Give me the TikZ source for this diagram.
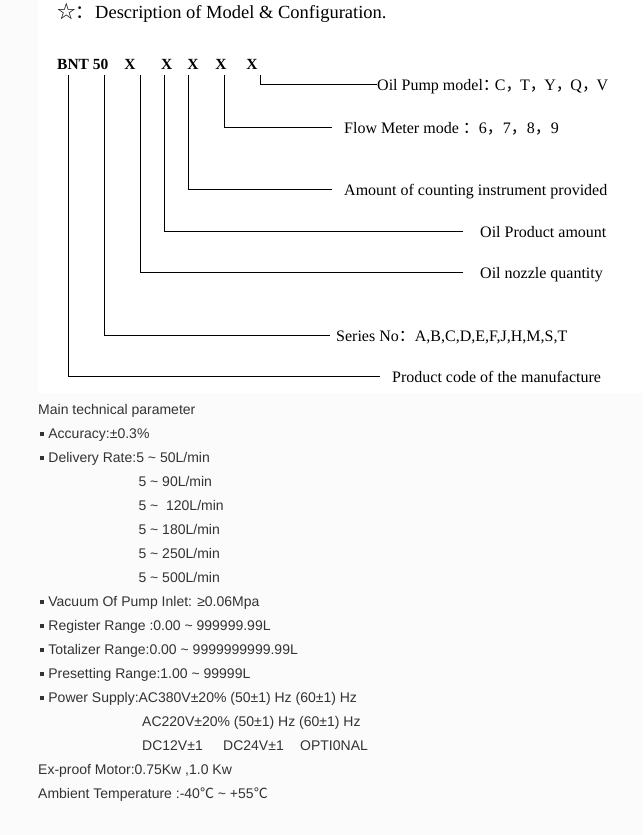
\documentclass[tikz,border=0pt]{standalone}
\usepackage{fontspec}
\setmainfont{Liberation Serif}
\newfontfamily\sansf{Liberation Sans}
\newfontfamily\cjk{Noto Sans CJK SC}
\definecolor{txtgray}{HTML}{333333}
\definecolor{bggray}{HTML}{FBFBFB}
\newcommand\mybul{\textcolor{txtgray}{\rule[1.7pt]{4.8pt}{4.8pt}}\hspace{4.1pt}}
\newcommand\fwc{{\cjk ，}\kern-1.5pt}
\begin{document}
\begin{tikzpicture}[x=1pt,y=-1pt,
  lab/.style={anchor=west,inner sep=0pt,text height=12pt,text depth=0pt,font=\fontsize{16}{16}\selectfont},
  codechar/.style={anchor=base,inner sep=0pt,font=\fontsize{15.5}{15.5}\selectfont\bfseries},
  ttl/.style={anchor=base west,inner sep=0pt,font=\fontsize{18.5}{18.5}\selectfont},
  para/.style={anchor=base west,inner sep=0pt,font=\fontsize{14}{14}\selectfont\sansf,text=txtgray},
  conn/.style={line width=1pt}]
\fill[bggray] (0,0) rectangle (643,835);
\fill[white] (38,0) rectangle (643,393);
\useasboundingbox (0,0) rectangle (643,835);
% title
\node[ttl] (star) at (57,18) {\cjk ☆：};
\node[ttl] (title) at (95,18) {Description of Model \& Configuration.};
% code
\node[codechar,anchor=base west] (bnt) at (57,69) {BNT 50};
\node[codechar] (x1) at (130,69) {X};
\node[codechar] (x2) at (166.7,69) {X};
\node[codechar] (x3) at (193,69) {X};
\node[codechar] (x4) at (221,69) {X};
\node[codechar] (x5) at (252,69) {X};
\coordinate (t0) at (68,75);
\coordinate (t1) at (104,75);
\coordinate (t2) at (140,75);
\coordinate (t3) at (164,75);
\coordinate (t4) at (188,75);
\coordinate (t5) at (224,75);
\coordinate (t6) at (260,75);
% labels
\node[lab] (l6) at (377,84) {Oil Pump model{\cjk ：}\kern-4pt C\fwc T\fwc Y\fwc Q\fwc V};
\node[lab] (l5) at (344,127) {Flow Meter mode {\cjk ：}6{\cjk ，}7{\cjk ，}8{\cjk ，}9};
\node[lab] (l4) at (344,189) {Amount of counting instrument provided};
\node[lab] (l3) at (480,231) {Oil Product amount};
\node[lab] (l2) at (480,272) {Oil nozzle quantity};
\node[lab] (l1) at (336,335.5) {Series No{\cjk ：}A,B,C,D,E,F,J,H,M,S,T};
\node[lab] (l0) at (392,376) {Product code of the manufacture};
% connectors
\draw[conn] (t6) |- (l6.west);
\draw[conn] (t5) |- ([xshift=-12pt]l5.west);
\draw[conn] (t4) |- ([xshift=-12pt]l4.west);
\draw[conn] (t3) |- ([xshift=-17pt]l3.west);
\draw[conn] (t2) |- ([xshift=-17pt]l2.west);
\draw[conn] (t1) |- ([xshift=-6pt]l1.west);
\draw[conn] (t0) |- ([xshift=-12pt]l0.west);
% parameters
\node[para] (p0) at (38,414) {Main technical parameter};
\node[para] (p1) at (39.3,438) {\mybul Accuracy:±0.3\%};
\node[para] (p2) at (39.3,462) {\mybul Delivery Rate:5 \textasciitilde{} 50L/min};
\node[para] (p3) at (138.3,486) {5 \textasciitilde{} 90L/min};
\node[para] (p4) at (138.3,510) {5 \textasciitilde{}\ \ 120L/min};
\node[para] (p5) at (138.3,534) {5 \textasciitilde{} 180L/min};
\node[para] (p6) at (138.3,558) {5 \textasciitilde{} 250L/min};
\node[para] (p7) at (138.3,582) {5 \textasciitilde{} 500L/min};
\node[para] (p8) at (39.3,606) {\mybul Vacuum Of Pump Inlet: ≥0.06Mpa};
\node[para] (p9) at (39.3,630) {\mybul Register Range :0.00 \textasciitilde{} 999999.99L};
\node[para] (p10) at (39.3,654) {\mybul Totalizer Range:0.00 \textasciitilde{} 9999999999.99L};
\node[para] (p11) at (39.3,678) {\mybul Presetting Range:1.00 \textasciitilde{} 99999L};
\node[para] (p12) at (39.3,702) {\mybul Power Supply:AC380V±20\% (50±1) Hz (60±1) Hz};
\node[para] (p13) at (142,726) {AC220V±20\% (50±1) Hz (60±1) Hz};
\node[para] (p14) at (142,750) {DC12V±1};
\node[para] (p15) at (223,750) {DC24V±1};
\node[para] (p16) at (300,750) {OPTI0NAL};
\node[para] (p17) at (38,774) {Ex-proof Motor:0.75Kw ,1.0 Kw};
\node[para] (p18) at (38,798) {Ambient Temperature :-40{\cjk ℃} \textasciitilde{} +55{\cjk ℃}};
\end{tikzpicture}
\end{document}
